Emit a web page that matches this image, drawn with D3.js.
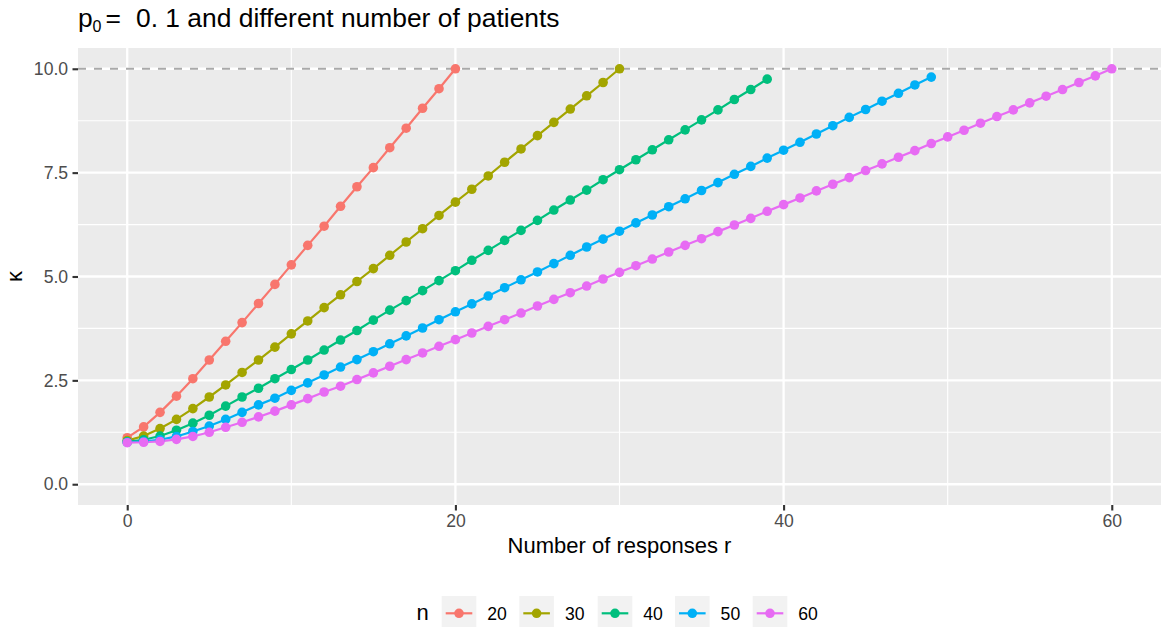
<!DOCTYPE html>
<html>
<head>
<meta charset="utf-8">
<script src="https://cdn.jsdelivr.net/npm/d3@7"></script>
<style>
  html, body { margin: 0; padding: 0; background: #ffffff; }
  svg { display: block; font-family: "Liberation Sans", Arial, Helvetica, sans-serif; }
</style>
</head>
<body>
<svg id="chart" width="1161" height="627"></svg>
<script>
// kappa by number of responses r, one series per sample size n (r = 0, 1, 2, ...)
const seriesN = [20, 30, 40, 50, 60];
const kappaN20 = [1.12,1.38,1.73,2.12,2.54,2.99,3.44,3.89,4.35,4.81,5.28,5.75,6.21,6.69,7.16,7.62,8.10,8.57,9.05,9.52,10.0];
const kappaN30 = [1.05,1.16,1.34,1.56,1.82,2.10,2.39,2.69,2.99,3.30,3.62,3.93,4.25,4.56,4.88,5.19,5.51,5.83,6.15,6.47,6.79,7.10,7.42,7.75,8.07,8.39,8.71,9.03,9.35,9.67,10.0];
const kappaN40 = [1.02,1.07,1.16,1.30,1.47,1.66,1.88,2.10,2.31,2.54,2.76,2.99,3.23,3.47,3.70,3.95,4.19,4.42,4.66,4.90,5.14,5.39,5.63,5.87,6.11,6.35,6.60,6.84,7.08,7.33,7.57,7.81,8.05,8.29,8.53,8.77,9.01,9.26,9.50,9.75];
const kappaN50 = [1.01,1.03,1.07,1.15,1.27,1.40,1.56,1.73,1.91,2.07,2.26,2.44,2.63,2.82,3.00,3.19,3.38,3.57,3.76,3.96,4.15,4.34,4.53,4.73,4.92,5.11,5.31,5.51,5.71,5.90,6.09,6.29,6.48,6.68,6.87,7.07,7.26,7.46,7.65,7.85,8.04,8.23,8.43,8.63,8.83,9.02,9.22,9.41,9.61,9.80];
const kappaN60 = [1.00,1.01,1.03,1.08,1.15,1.25,1.37,1.49,1.62,1.76,1.91,2.06,2.22,2.36,2.52,2.68,2.84,3.00,3.16,3.32,3.48,3.64,3.80,3.96,4.12,4.29,4.45,4.61,4.77,4.94,5.10,5.26,5.42,5.59,5.75,5.91,6.08,6.24,6.40,6.57,6.73,6.89,7.06,7.22,7.38,7.55,7.71,7.87,8.03,8.20,8.36,8.52,8.69,8.85,9.01,9.18,9.34,9.50,9.67,9.83,10.0];
const seriesColors = ["#F8766D", "#A3A500", "#00BF7D", "#00B0F6", "#E76BF3"];

const xTicks = [0, 20, 40, 60];
const xMinor = [10, 30, 50];
const yTicks = [0, 2.5, 5, 7.5, 10];
const yTickLabels = ["0.0", "2.5", "5.0", "7.5", "10.0"];
const yMinor = [1.25, 3.75, 6.25, 8.75];
const refLine = 10;

const titleMain = "0. 1 and different number of patients";
const xTitle = "Number of responses r";
const yTitle = "κ";
const legendTitle = "n";

// ---- layout ----
const panel = { left: 78, right: 1161, top: 48, bottom: 505 };
const svg = d3.select("#chart");

const x = d3.scaleLinear().domain([-3, 63]).range([panel.left, panel.right]);
const y = d3.scaleLinear().domain([-0.5, 10.5]).range([panel.bottom, panel.top]);

const allSeries = [kappaN20, kappaN30, kappaN40, kappaN50, kappaN60].map((vals, i) => ({
  n: seriesN[i],
  color: seriesColors[i],
  points: vals.map((v, r) => ({ r: r, k: v }))
}));

// panel background
svg.append("rect")
  .attr("x", panel.left).attr("y", panel.top)
  .attr("width", panel.right - panel.left).attr("height", panel.bottom - panel.top)
  .attr("fill", "#EBEBEB");

const grid = svg.append("g");
// minor grid
grid.selectAll("line.xminor").data(xMinor).join("line")
  .attr("x1", d => x(d)).attr("x2", d => x(d))
  .attr("y1", panel.top).attr("y2", panel.bottom)
  .attr("stroke", "#ffffff").attr("stroke-width", 1.15);
grid.selectAll("line.yminor").data(yMinor).join("line")
  .attr("x1", panel.left).attr("x2", panel.right)
  .attr("y1", d => y(d)).attr("y2", d => y(d))
  .attr("stroke", "#ffffff").attr("stroke-width", 1.15);
// major grid
grid.selectAll("line.xmajor").data(xTicks).join("line")
  .attr("x1", d => x(d)).attr("x2", d => x(d))
  .attr("y1", panel.top).attr("y2", panel.bottom)
  .attr("stroke", "#ffffff").attr("stroke-width", 2.3);
grid.selectAll("line.ymajor").data(yTicks).join("line")
  .attr("x1", panel.left).attr("x2", panel.right)
  .attr("y1", d => y(d)).attr("y2", d => y(d))
  .attr("stroke", "#ffffff").attr("stroke-width", 2.3);

// reference line at kappa = 10
svg.append("line")
  .attr("x1", panel.left).attr("x2", panel.right)
  .attr("y1", y(refLine)).attr("y2", y(refLine))
  .attr("stroke", "#A9A9A9").attr("stroke-width", 2.2)
  .attr("stroke-dasharray", "8,8");

// lines
const lineGen = d3.line().x(d => x(d.r)).y(d => y(d.k));
svg.append("g").selectAll("path").data(allSeries).join("path")
  .attr("d", d => lineGen(d.points))
  .attr("fill", "none")
  .attr("stroke", d => d.color)
  .attr("stroke-width", 2.2);

// points
svg.append("g").selectAll("g").data(allSeries).join("g")
  .attr("fill", d => d.color)
  .selectAll("circle").data(d => d.points).join("circle")
  .attr("cx", d => x(d.r)).attr("cy", d => y(d.k)).attr("r", 4.8);

// axes
const xAxis = d3.axisBottom(x).tickValues(xTicks).tickSize(5.5).tickPadding(4.4).tickFormat(d3.format("d"));
const gx = svg.append("g").attr("transform", `translate(0,${panel.bottom})`).call(xAxis);
const yAxis = d3.axisLeft(y).tickValues(yTicks).tickSize(5.5).tickPadding(4.4).tickFormat((d, i) => yTickLabels[i]);
const gy = svg.append("g").attr("transform", `translate(${panel.left},0)`).call(yAxis);
[gx, gy].forEach(g => {
  g.select(".domain").remove();
  g.selectAll(".tick line").attr("stroke", "#333333").attr("stroke-width", 2.1);
  g.selectAll(".tick text").attr("fill", "#4D4D4D").attr("font-size", 17.6)
    .attr("font-family", "Liberation Sans, Arial, sans-serif");
});

// axis titles
svg.append("text")
  .attr("x", (panel.left + panel.right) / 2).attr("y", 553)
  .attr("text-anchor", "middle").attr("font-size", 22).attr("fill", "#000")
  .text(xTitle);
svg.append("text")
  .attr("transform", `translate(22,${(panel.top + panel.bottom) / 2}) rotate(-90)`)
  .attr("text-anchor", "middle").attr("font-size", 22).attr("fill", "#000")
  .text(yTitle);

// title: p[0] == 0.1 and ...
const title = svg.append("text").attr("y", 27).attr("font-size", 26.4).attr("fill", "#000");
title.append("tspan").attr("x", 78).text("p");
title.append("tspan").attr("x", 92.5).attr("dy", 5).attr("font-size", 16).text("0");
title.append("tspan").attr("x", 105.5).attr("dy", -5).text("=");
title.append("tspan").attr("x", 136).text(titleMain);

// legend
const legendCY = 613.3;
const keySize = 34.6;
const keyLefts = [441.7, 519.3, 597.7, 675, 752.7];
svg.append("text")
  .attr("x", 416.5).attr("y", legendCY + 7)
  .attr("font-size", 22).attr("fill", "#000").text(legendTitle);
const legendItems = svg.append("g").selectAll("g").data(allSeries).join("g")
  .attr("transform", (d, i) => `translate(${keyLefts[i]},${legendCY - keySize / 2})`);
legendItems.append("rect")
  .attr("width", keySize).attr("height", keySize).attr("fill", "#F2F2F2");
legendItems.append("line")
  .attr("x1", 4).attr("x2", keySize - 4)
  .attr("y1", keySize / 2).attr("y2", keySize / 2)
  .attr("stroke", d => d.color).attr("stroke-width", 2.2);
legendItems.append("circle")
  .attr("cx", keySize / 2).attr("cy", keySize / 2).attr("r", 4.8)
  .attr("fill", d => d.color);
legendItems.append("text")
  .attr("x", keySize + 11).attr("y", keySize / 2 + 6.3)
  .attr("font-size", 17.6).attr("fill", "#000")
  .text(d => d.n);
</script>
</body>
</html>
